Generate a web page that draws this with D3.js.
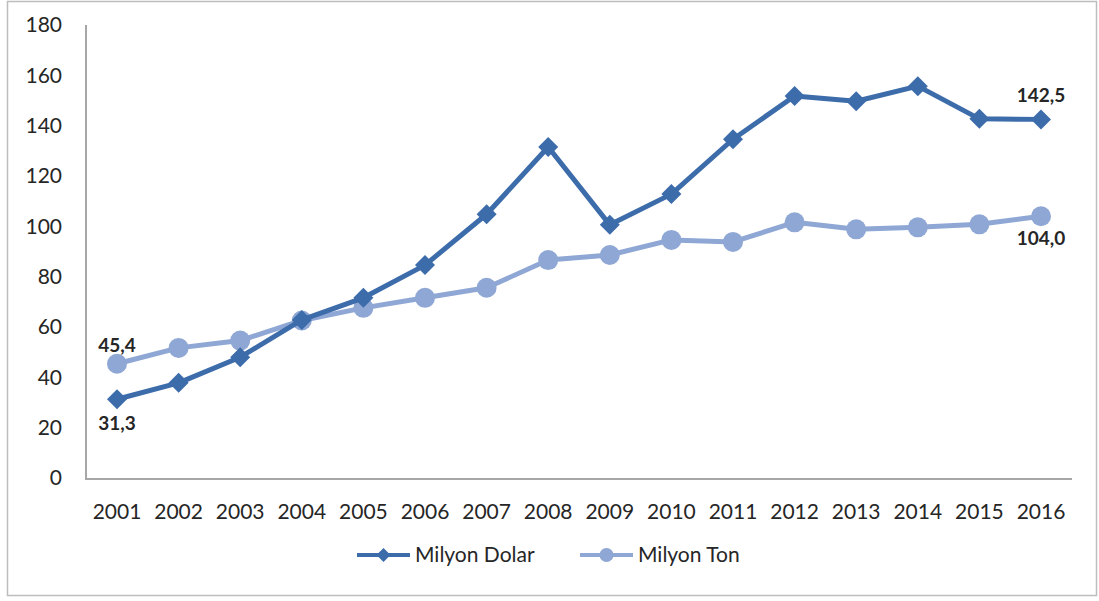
<!DOCTYPE html>
<html>
<head>
<meta charset="utf-8">
<script src="https://cdn.jsdelivr.net/npm/d3@7"></script>
<style>
  html, body { margin: 0; padding: 0; background: #fff; }
  svg { display: block; }
  text { font-family: Lato, "Open Sans", sans-serif; fill: #262626; }
</style>
</head>
<body>
<svg id="chart" width="1099" height="601"></svg>
<script>
// Yearly series: value in million dollars and in million tonnes
const years = ["2001","2002","2003","2004","2005","2006","2007","2008","2009","2010","2011","2012","2013","2014","2015","2016"];
const milyonDolar = [31.3, 37.8, 48.0, 62.8, 71.6, 84.6, 104.8, 131.5, 100.6, 112.8, 134.6, 151.8, 149.7, 155.7, 142.7, 142.5];
const milyonTon   = [45.4, 51.7, 54.6, 62.6, 67.6, 71.6, 75.6, 86.6, 88.6, 94.6, 93.8, 101.6, 98.8, 99.6, 100.8, 104.0];
const yTicks = [0, 20, 40, 60, 80, 100, 120, 140, 160, 180];
const seriesNames = ["Milyon Dolar", "Milyon Ton"];

const colDolar = "#3d6cab";
const colTon = "#8fa7d4";

const svg = d3.select("#chart");

// outer frame
svg.append("rect")
  .attr("x", 7.5).attr("y", 1.5).attr("width", 1089).attr("height", 594)
  .attr("fill", "#fff").attr("stroke", "#bdbdbd").attr("stroke-width", 1.5);

const x = d3.scalePoint().domain(years).range([117, 1041]);
const y = d3.scaleLinear().domain([0, 180]).range([478, 25]);

// axis lines
svg.append("line").attr("x1", 86).attr("x2", 86).attr("y1", 25).attr("y2", 479)
  .attr("stroke", "#a6a6a6").attr("stroke-width", 2);
svg.append("line").attr("x1", 85).attr("x2", 1072).attr("y1", 479).attr("y2", 479)
  .attr("stroke", "#a6a6a6").attr("stroke-width", 2);

// y tick labels
svg.append("g").selectAll("text").data(yTicks).join("text")
  .attr("x", 62).attr("y", d => y(d)).attr("dy", "0.35em")
  .attr("text-anchor", "end").attr("font-size", 21)
  .text(d => d);

// x tick labels
svg.append("g").selectAll("text").data(years).join("text")
  .attr("x", d => x(d)).attr("y", 512).attr("dy", "0.35em")
  .attr("text-anchor", "middle").attr("font-size", 21)
  .text(d => d);

const line = d3.line().x((d, i) => x(years[i])).y(d => y(d));

// Milyon Ton series
svg.append("path").datum(milyonTon)
  .attr("d", line).attr("fill", "none")
  .attr("stroke", colTon).attr("stroke-width", 5).attr("stroke-linejoin", "round");
svg.append("g").selectAll("circle").data(milyonTon).join("circle")
  .attr("cx", (d, i) => x(years[i])).attr("cy", d => y(d)).attr("r", 10)
  .attr("fill", colTon);

// Milyon Dolar series
svg.append("path").datum(milyonDolar)
  .attr("d", line).attr("fill", "none")
  .attr("stroke", colDolar).attr("stroke-width", 5).attr("stroke-linejoin", "round");
const diamond = "M0,-10L10,0L0,10L-10,0Z";
svg.append("g").selectAll("path").data(milyonDolar).join("path")
  .attr("transform", (d, i) => `translate(${x(years[i])},${y(d)})`)
  .attr("d", diamond).attr("fill", colDolar);

// end-point value labels
const fmt = v => v.toFixed(1).replace(".", ",");
const last = years.length - 1;
const labels = [
  { v: milyonTon[0], xi: 0, dy: -18 },
  { v: milyonDolar[0], xi: 0, dy: 24 },
  { v: milyonDolar[last], xi: last, dy: -24 },
  { v: milyonTon[last], xi: last, dy: 22 }
];
svg.append("g").selectAll("text").data(labels).join("text")
  .attr("x", d => x(years[d.xi])).attr("y", d => y(d.v) + d.dy).attr("dy", "0.35em")
  .attr("text-anchor", "middle").attr("font-size", 19).attr("font-weight", "bold")
  .text(d => fmt(d.v));

// legend
const legend = svg.append("g");
const legendItems = [
  { name: seriesNames[0], color: colDolar, x0: 357, shape: "diamond" },
  { name: seriesNames[1], color: colTon, x0: 580, shape: "circle" }
];
legendItems.forEach(it => {
  const g = legend.append("g");
  g.append("line").attr("x1", it.x0).attr("x2", it.x0 + 53).attr("y1", 555).attr("y2", 555)
    .attr("stroke", it.color).attr("stroke-width", 4);
  if (it.shape === "diamond") {
    g.append("path").attr("transform", `translate(${it.x0 + 26.5},555)`)
      .attr("d", "M0,-7L7,0L0,7L-7,0Z").attr("fill", it.color);
  } else {
    g.append("circle").attr("cx", it.x0 + 26.5).attr("cy", 555).attr("r", 7).attr("fill", it.color);
  }
  g.append("text").attr("x", it.x0 + 58).attr("y", 555).attr("dy", "0.35em")
    .attr("font-size", 21).text(it.name);
});
</script>
</body>
</html>
